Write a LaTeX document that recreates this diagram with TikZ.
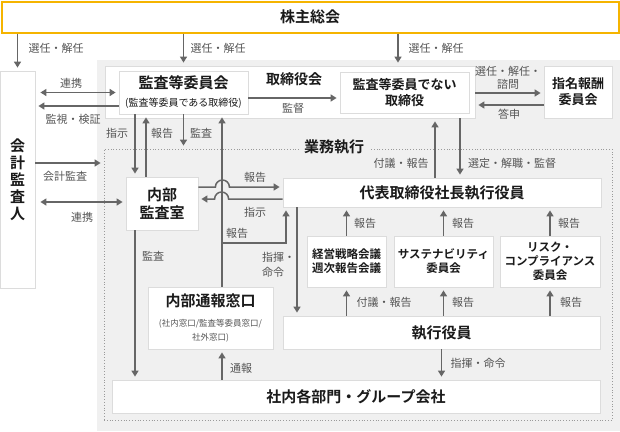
\documentclass[tikz,border=0pt]{standalone}
\usepackage{fontspec}
\setmainfont{Noto Sans CJK JP}[BoldFont={Noto Sans CJK JP Bold}]
\usetikzlibrary{arrows.meta}
\definecolor{gmyellow}{HTML}{F5B400}
\definecolor{bggray}{HTML}{F0F0F0}
\definecolor{boxline}{HTML}{DCDCDC}
\definecolor{dotgray}{HTML}{9A9A9A}
\definecolor{arrowgray}{HTML}{666666}
\definecolor{labelgray}{HTML}{555555}
\definecolor{titletext}{HTML}{1A1A1A}

\begin{document}
\begin{tikzpicture}[
            x=1pt,
            y=-1pt,
            box/.style={draw=boxline, fill=white, line width=0.8pt, inner sep=0pt, align=center, text=titletext},
            big/.style={font=\bfseries\fontsize{15}{18}\selectfont},
            mid/.style={font=\bfseries\fontsize{13}{16}\selectfont},
            sml/.style={font=\bfseries\fontsize{11.5}{14}\selectfont},
            lbl/.style={text=labelgray, font=\fontsize{11}{13}\selectfont, inner sep=0pt, align=center},
            arr/.style={draw=arrowgray, line width=1.5pt, -{Triangle[length=6pt,width=7pt]}, shorten >=3pt},
            darr/.style={arr, {Triangle[length=6pt,width=7pt]}-{Triangle[length=6pt,width=7pt]}, shorten <=5pt},
          ]
\useasboundingbox (0,0) rectangle (620,431);
\fill[bggray] (97,60) rectangle (620,431);

\node[box, draw=gmyellow, line width=2pt, minimum width=617pt, minimum height=31pt, big] (gm) at (310,17) {株主総会};
\node[box, minimum width=35pt, minimum height=217pt, font=\bfseries\fontsize{15}{17}\selectfont] (auditor) at (17.5,179.5) {会\\計\\監\\査\\人};

\node[box, minimum width=370pt, minimum height=52pt] (board) at (290,92) {};
\node[font=\bfseries\fontsize{14}{16}\selectfont, text=titletext] (boardtitle) at (294,79) {取締役会};
\node[box, minimum width=129pt, minimum height=43pt, font=\fontsize{10}{13}\selectfont] (ac) at (183.5,92.5)
  {{\bfseries\fontsize{15}{17}\selectfont 監査等委員会}\\[5pt](監査等委員である取締役)};
\node[box, mid, minimum width=129pt, minimum height=41pt] (nonaudit) at (404.5,92.5) {監査等委員でない\\取締役};
\node[box, mid, minimum width=68pt, minimum height=52pt] (nomcom) at (578,92) {指名報酬\\委員会};

\node[draw=dotgray, dotted, line width=0.8pt, minimum width=508pt, minimum height=271pt] (exec) at (358,284.5) {};
\node[fill=bggray, big, text=titletext, inner xsep=5pt, inner ysep=2pt] (exectitle) at (334,147) {業務執行};

\node[box, big, minimum width=72pt, minimum height=53pt] (ia) at (162,203.5) {内部\\監査室};
\node[box, big, minimum width=318pt, minimum height=29pt] (ceo) at (442,192.5) {代表取締役社長執行役員};
\node[box, sml, minimum width=79pt, minimum height=51pt] (strat) at (346.5,261.5) {経営戦略会議\\週次報告会議};
\node[box, sml, minimum width=99pt, minimum height=51pt] (sus) at (443.5,261.5) {サステナビリティ\\委員会};
\node[box, sml, minimum width=100pt, minimum height=51pt] (risk) at (550,261.5) {リスク・\\コンプライアンス\\委員会};
\node[box, minimum width=125pt, minimum height=62pt, font=\fontsize{8.5}{14}\selectfont] (wb) at (210.5,318)
  {{\bfseries\fontsize{15}{18}\selectfont 内部通報窓口}\\[6pt]{\color{labelgray}(社内窓口/監査等委員窓口/}\\{\color{labelgray}社外窓口)}};
\node[box, big, minimum width=317pt, minimum height=33pt] (eo) at (441.5,332.5) {執行役員};
\node[box, big, minimum width=488pt, minimum height=33pt] (dept) at (356,396.5) {社内各部門・グループ会社};

\coordinate (wbsplit) at (222,243);

\draw[arr] (gm.south -| auditor) -- (auditor.north);
\draw[arr] (gm.south -| ac) -- (board.north -| ac);
\draw[arr] ([xshift=-6.5pt]gm.south -| nonaudit) -- ([xshift=-6.5pt]board.north -| nonaudit);
\draw[darr] (ac.west -| auditor.east) -- (ac.west);
\draw[arr] ([yshift=-13.5pt]ac.west) -- ([yshift=-13.5pt]ac.west -| auditor.east);
\draw[arr] ([yshift=-5.5pt]ac.east) -- ([yshift=-5.5pt]ac.east -| nonaudit.west);
\draw[arr] ([yshift=-1pt]board.east) -- ([yshift=-1pt]board.east -| nomcom.west);
\draw[arr] ([yshift=-13pt]nomcom.west) -- ([yshift=-13pt]nomcom.west -| board.east);

\draw[arr] ([xshift=-27pt]ia.north |- ac.south) -- ([xshift=-27pt]ia.north);
\draw[arr] ([xshift=-16pt]ia.north) -- ([xshift=-16pt]ia.north |- ac.south);
\draw[arr] (ac.south) -- (ac.south |- exec.north);
\draw[arr] (wb.north -| wbsplit) -- (ac.south -| wbsplit);
\draw[arr] (wbsplit) -| ([xshift=-156pt]ceo.south);
\draw[arr] ([yshift=16.5pt]ia.east) -- ++(17pt,0) arc[start angle=180, end angle=0, radius=7pt] -- ([yshift=5.5pt]ceo.west);
\draw[arr] ([yshift=-6.5pt]ceo.west) -- ++(-54pt,0) arc[start angle=0, end angle=180, radius=7pt] -- ([yshift=4.5pt]ia.east);
\draw[arr] ([yshift=40.5pt]ia.west -| auditor.east) -- ([yshift=40.5pt]ia.west -| exec.west);
\draw[darr] ([yshift=1.5pt]ia.west -| auditor.east) -- ([yshift=1.5pt]ia.west);
\draw[arr] ([xshift=-27pt]ia.south) -- ([xshift=-27pt]ia.south |- dept.north);

\draw[arr] ([xshift=-7pt]ceo.north) -- ([xshift=-7pt]ceo.north |- board.south);
\draw[arr] ([xshift=18pt]ceo.north |- board.south) -- ([xshift=18pt]ceo.north);
\draw[arr] ([xshift=-145pt]ceo.south) -- ([xshift=-145pt]ceo.south |- eo.north);
\foreach \c in {strat,sus,risk}{
  \draw[arr] (\c.north) -- (\c.north |- ceo.south);
  \draw[arr] (eo.north -| \c) -- (\c.south);
}
\draw[arr] (eo.south) -- (eo.south |- dept.north);
\draw[arr] (dept.north -| wbsplit) -- (wb.south -| wbsplit);

\node[lbl] (lelect1) at (56,48) {選任・解任};
\node[lbl] (lelect2) at (218,48) {選任・解任};
\node[lbl] (lelect3) at (436,48) {選任・解任};
\node[lbl] (lcoop1) at (71,83) {連携};
\node[lbl] (lmonitor) at (73,119) {監視・検証};
\node[lbl] (lsuper) at (293,108) {監督};
\node[lbl] (lnom) at (508,78) {選任・解任・\\諮問};
\node[lbl] (lanswer) at (509,114) {答申};
\node[lbl] (linstr1) at (117,133) {指示};
\node[lbl] (lreport1) at (162,133) {報告};
\node[lbl] (laudit1) at (201,133) {監査};
\node[lbl] (lacct) at (65,176) {会計監査};
\node[lbl] (lcoop2) at (82,217) {連携};
\node[lbl] (lreport2) at (255,177) {報告};
\node[lbl] (linstr2) at (255,212) {指示};
\node[lbl] (lreport3) at (237,233) {報告};
\node[lbl, align=left, anchor=west, font=\fontsize{11}{15}\selectfont] (lcommand1) at (262,265) {指揮・\\命令};
\node[lbl] (laudit2) at (153,256) {監査};
\node[lbl] (lpropose1) at (401,163) {付議・報告};
\node[lbl] (lappoint) at (512,163) {選定・解職・監督};
\node[lbl] (lreport4) at (365,223) {報告};
\node[lbl] (lreport5) at (463,223) {報告};
\node[lbl] (lreport6) at (569,223) {報告};
\node[lbl] (lpropose2) at (384,302) {付議・報告};
\node[lbl] (lreport7) at (463,302) {報告};
\node[lbl] (lreport8) at (571,302) {報告};
\node[lbl] (lcommand2) at (478,363) {指揮・命令};
\node[lbl] (lwhistle) at (241,368) {通報};
\end{tikzpicture}
\end{document}
